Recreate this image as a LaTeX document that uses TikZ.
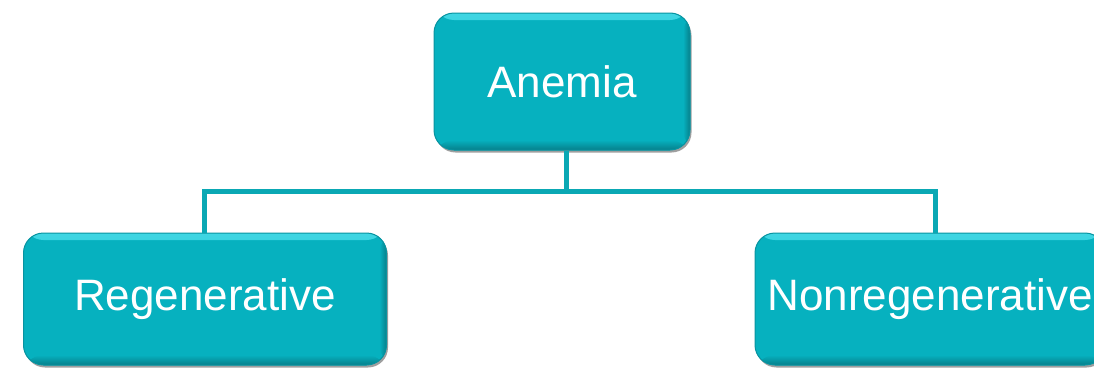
\documentclass[tikz,border=0pt]{standalone}
\usepackage{fontspec}
\setmainfont{Liberation Sans}
\usetikzlibrary{shadows}
\definecolor{teal1}{HTML}{06B1BF}
\definecolor{tealedge}{HTML}{0893A0}
\definecolor{tealline}{HTML}{0AA8B4}
\definecolor{teallight}{HTML}{3FD6E3}
\definecolor{tealdark}{HTML}{067F8A}
\tikzset{
  box/.style={rectangle, rounded corners=20pt, fill=teal1, draw=tealedge, line width=1pt,
    text=white, font=\fontsize{44}{50}\selectfont, inner sep=0pt,
    drop shadow={shadow xshift=1.5pt, shadow yshift=-2.5pt, opacity=0.5, fill=black!75},
    path picture={
      \fill[top color=teallight, bottom color=teal1]
        (path picture bounding box.north west) rectangle ([yshift=-7pt]path picture bounding box.north east);
      \fill[top color=teal1, bottom color=tealdark]
        ([yshift=10pt]path picture bounding box.south west) rectangle (path picture bounding box.south east);
      \fill[left color=teal1, right color=tealdark]
        ([xshift=-7pt]path picture bounding box.south east) rectangle (path picture bounding box.north east);
    }},
  conn/.style={draw=tealline, line width=5pt},
}
\begin{document}
\begin{tikzpicture}[x=1pt,y=-1pt]
\useasboundingbox (0,0) rectangle (1094,367);
\clip (0,0) rectangle (1094,367);
\coordinate (bus) at (0,191);
\node[box, minimum width=256pt, minimum height=137pt] (anemia) at (562,81.5) {Anemia};
\node[box, minimum width=363pt, minimum height=132pt] (regen) at (205,299) {Regenerative};
\node[box, minimum width=350pt, minimum height=132pt] (nonregen) at (930,299) {Nonregenerative};
\draw[conn] ([xshift=4.5pt]anemia.south) -- ([xshift=4.5pt]anemia.south |- bus);
\draw[conn] ([xshift=-1pt]regen.north) -- ([xshift=-1pt]regen.north |- bus)
  -- ([xshift=5pt]nonregen.north |- bus) -- ([xshift=5pt]nonregen.north);
\end{tikzpicture}
\end{document}
